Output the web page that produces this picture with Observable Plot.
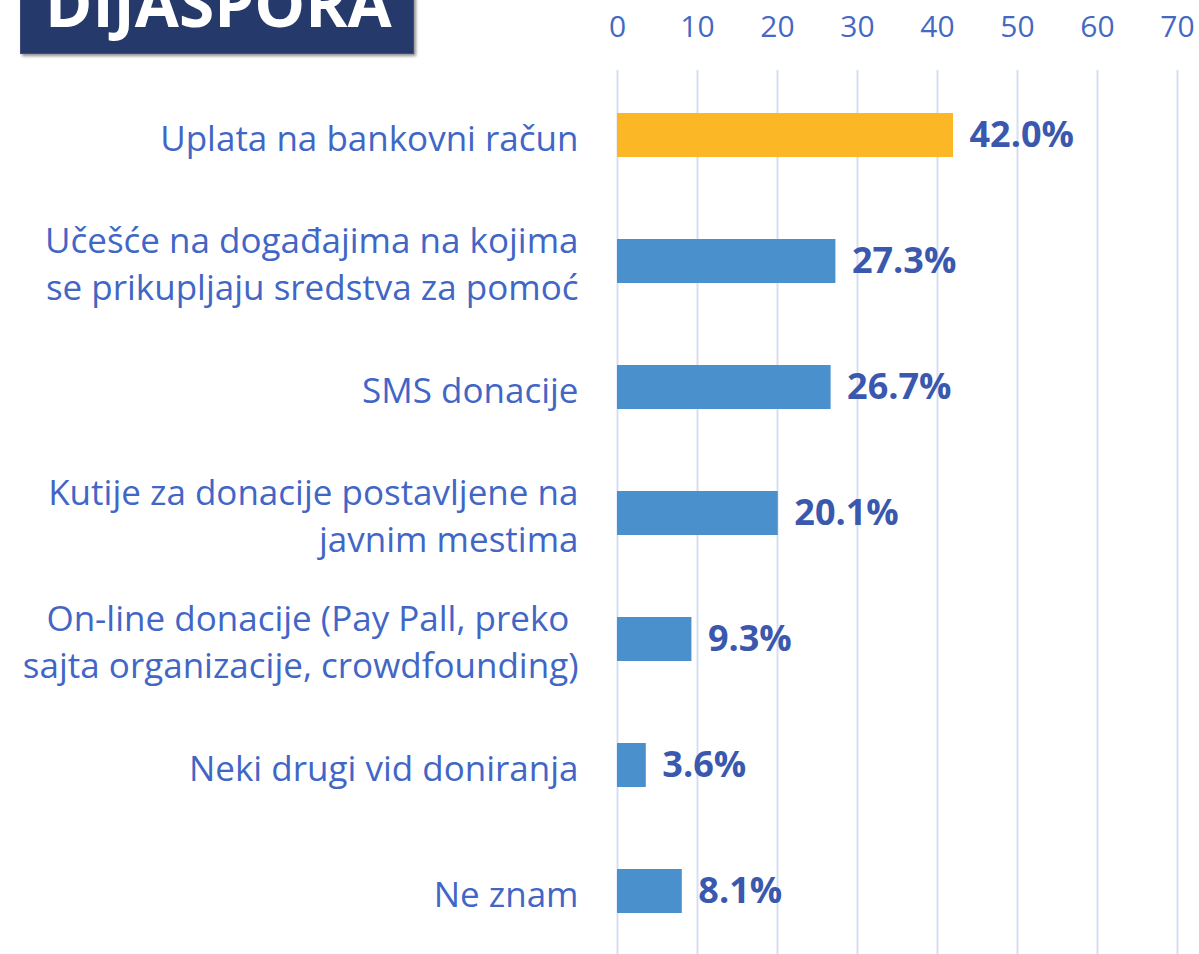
<!DOCTYPE html>
<html>
<head>
<meta charset="utf-8">
<script src="https://cdn.jsdelivr.net/npm/d3@7"></script>
<script src="https://cdn.jsdelivr.net/npm/@observablehq/plot@0.6"></script>
<style>
  html, body { margin: 0; padding: 0; background: #fff; overflow: hidden; }
  #wrap { position: relative; width: 1199px; height: 954px; }
  #title {
    position: absolute; left: 20px; top: -30px; width: 394px; height: 84px;
    background: #253a6a; color: #fff; font-family: "Open Sans", sans-serif;
    font-weight: 700; font-size: 64px; line-height: 1; box-sizing: border-box;
    padding-left: 24px; padding-top: 0px; box-shadow: 2px 2px 3px rgba(0,0,0,0.45);
    border: 1px solid #3d4f7a; white-space: nowrap; overflow: hidden;
  }
</style>
</head>
<body>
<div id="wrap"><div id="title">DIJASPORA</div><div id="chart"></div></div>
<script>
const categories = [
  "Uplata na bankovni račun",
  "Učešće na događajima na kojima\nse prikupljaju sredstva za pomoć",
  "SMS donacije",
  "Kutije za donacije postavljene na\njavnim mestima",
  "On-line donacije (Pay Pall, preko \nsajta organizacije, crowdfounding)",
  "Neki drugi vid doniranja",
  "Ne znam"
];
const values = [42.0, 27.3, 26.7, 20.1, 9.3, 3.6, 8.1];
const highlight = [true, false, false, false, false, false, false];
const xTicks = [0, 10, 20, 30, 40, 50, 60, 70];

const data = categories.map((c, i) => ({cat: c, value: values[i], hi: highlight[i]}));

const chart = Plot.plot({
  width: 1199,
  height: 954,
  marginLeft: 617,
  marginRight: 22,
  marginTop: 72,
  marginBottom: 0,
  style: {fontFamily: "'Open Sans', sans-serif", background: "transparent"},
  x: {domain: [0, 70], ticks: xTicks, axis: null},
  y: {domain: categories, paddingInner: 0.65, paddingOuter: 0.325, axis: null},
  marks: [
    Plot.ruleX(xTicks, {x: d => d, stroke: "#d6dff2", strokeWidth: 2, insetTop: -2}),
    Plot.axisX({anchor: "top", ticks: xTicks, tickSize: 0, tickPadding: 36, fontSize: 30, fill: "#4469c5", color: "#4469c5", label: null}),
    Plot.barX(data, {x: "value", y: "cat", fill: d => d.hi ? "#fbb725" : "#4a90cd"}),
    Plot.text(data, {x: "value", y: "cat", text: d => d.value.toFixed(1) + "%", textAnchor: "start", dx: 16, fontSize: 36, fontWeight: 700, fill: "#3a58ad"}),
    Plot.text(data, {x: () => 0, y: "cat", text: "cat", textAnchor: "end", dx: -39, fontSize: 35, lineHeight: 1.35, fill: "#4166c6"})
  ]
});
document.getElementById("chart").appendChild(chart);
</script>
</body>
</html>
